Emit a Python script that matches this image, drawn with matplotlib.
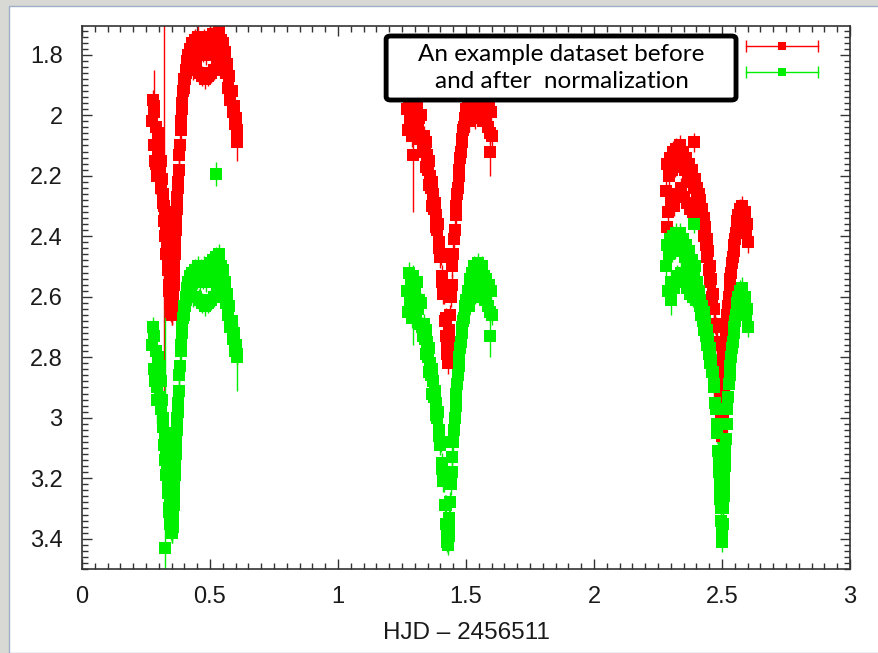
import matplotlib
matplotlib.use("Agg")
import matplotlib.pyplot as plt
from matplotlib.patches import Rectangle, FancyBboxPatch
from matplotlib.ticker import MultipleLocator, FormatStrFormatter
import numpy as np

# night 1: times (HJD - 2456511) and magnitudes before (red) / after (green) normalization
t1 = [0.274, 0.277, 0.280, 0.283, 0.286, 0.289, 0.292, 0.295, 0.298,
      0.3000, 0.3025, 0.3050, 0.3075, 0.3100, 0.3125, 0.3150, 0.3175, 0.3200, 0.3225,
      0.3250, 0.3275, 0.3300, 0.3325, 0.3350, 0.3375, 0.3400, 0.3425, 0.3450, 0.3475, 0.3500,
      0.3525, 0.3550, 0.3575, 0.3600, 0.3625, 0.3650, 0.3675, 0.3700, 0.3725, 0.3750,
      0.3775, 0.3800, 0.3825, 0.3850, 0.3875, 0.3900, 0.3925, 0.3950, 0.3975, 0.4000,
      0.4025, 0.4050, 0.4075, 0.4100, 0.4125, 0.4150, 0.4175, 0.4200,
      0.424, 0.428, 0.432, 0.436, 0.440, 0.444, 0.448, 0.452, 0.456, 0.460, 0.464,
      0.468, 0.472, 0.476, 0.480, 0.484, 0.488, 0.492, 0.496, 0.500, 0.504, 0.508,
      0.512, 0.516, 0.520, 0.524, 0.528, 0.532, 0.536, 0.540, 0.544, 0.548,
      0.552, 0.556, 0.560, 0.564, 0.568, 0.572, 0.576, 0.580, 0.584, 0.588,
      0.592, 0.596, 0.600, 0.604,
      0.3410, 0.3465, 0.3490, 0.3510, 0.3540, 0.3560,
      0.3538, 0.3563, 0.3588, 0.3613, 0.3638, 0.3663, 0.3688, 0.3713, 0.3738]
red1 = [2.02, 1.95, 2.10, 1.99, 2.15, 2.04, 2.20, 2.06, 2.12,
        2.14, 2.10, 2.18, 2.15, 2.24, 2.21, 2.29, 2.26, 2.35, 2.32,
        2.40, 2.37, 2.46, 2.43, 2.51, 2.48, 2.56, 2.55, 2.62, 2.60, 2.66,
        2.66, 2.61, 2.56, 2.51, 2.46, 2.41, 2.36, 2.31, 2.27, 2.22,
        2.18, 2.13, 2.10, 2.05, 2.02, 1.98, 1.96, 1.92, 1.91, 1.88,
        1.88, 1.85, 1.86, 1.82, 1.85, 1.80, 1.84, 1.78,
        1.80, 1.76, 1.85, 1.79, 1.75, 1.84, 1.78, 1.74, 1.86, 1.80, 1.76,
        1.87, 1.79, 1.75, 1.88, 1.80, 1.76, 1.87, 1.78, 1.74, 1.86, 1.79,
        1.73, 1.85, 1.77, 1.73, 1.83, 1.76, 1.72, 1.80, 1.75, 1.77,
        1.76, 1.82, 1.79, 1.86, 1.83, 1.91, 1.87, 1.95, 1.92, 1.99,
        1.97, 2.03, 2.01, 2.05,
        2.58, 2.63, 2.65, 2.64, 2.61, 2.57,
        2.63, 2.58, 2.53, 2.48, 2.43, 2.38, 2.33, 2.29, 2.24]
green1 = [2.76, 2.70, 2.84, 2.73, 2.88, 2.78, 2.94, 2.80, 2.86,
          2.86, 2.83, 2.93, 2.88, 2.97, 2.94, 3.03, 3.00, 3.09, 3.05,
          3.14, 3.11, 3.19, 3.17, 3.25, 3.22, 3.30, 3.28, 3.35, 3.33, 3.38,
          3.38, 3.34, 3.29, 3.24, 3.19, 3.14, 3.09, 3.04, 3.00, 2.95,
          2.91, 2.86, 2.83, 2.78, 2.76, 2.72, 2.70, 2.67, 2.66, 2.63,
          2.63, 2.60, 2.61, 2.57, 2.60, 2.55, 2.58, 2.53,
          2.56, 2.52, 2.60, 2.55, 2.51, 2.60, 2.54, 2.50, 2.61, 2.55, 2.51,
          2.62, 2.54, 2.50, 2.63, 2.55, 2.51, 2.62, 2.53, 2.49, 2.61, 2.54,
          2.48, 2.60, 2.52, 2.47, 2.58, 2.51, 2.46, 2.55, 2.50, 2.52,
          2.51, 2.57, 2.55, 2.62, 2.59, 2.66, 2.63, 2.70, 2.68, 2.74,
          2.72, 2.78, 2.76, 2.79,
          3.31, 3.36, 3.37, 3.37, 3.35, 3.31,
          3.36, 3.31, 3.27, 3.22, 3.17, 3.12, 3.07, 3.03, 2.98]

# night 2
t2 = [1.270, 1.274, 1.278, 1.282, 1.286, 1.290, 1.294, 1.298, 1.302, 1.306,
      1.310, 1.314, 1.318, 1.322, 1.326, 1.330,
      1.333, 1.336, 1.339, 1.342, 1.345, 1.348, 1.351, 1.354, 1.357, 1.360,
      1.363, 1.366, 1.369, 1.372, 1.375, 1.378, 1.381, 1.384, 1.387, 1.390,
      1.393, 1.396, 1.399, 1.402, 1.405, 1.408, 1.411, 1.414, 1.417, 1.420,
      1.423, 1.426, 1.429,
      1.432, 1.435, 1.438, 1.441, 1.444, 1.447, 1.450, 1.453, 1.456, 1.459,
      1.462, 1.465, 1.468, 1.471, 1.474, 1.477, 1.480, 1.483, 1.486, 1.489,
      1.492, 1.495, 1.498, 1.501, 1.504,
      1.508, 1.512, 1.516, 1.520, 1.524, 1.528, 1.532, 1.536, 1.540, 1.544,
      1.548, 1.552, 1.556, 1.560, 1.564, 1.568, 1.572, 1.576, 1.580, 1.584,
      1.588, 1.592, 1.596, 1.600,
      1.4245, 1.4275, 1.4305, 1.4335]
red2 = [1.98, 2.05, 1.94, 2.02, 1.97, 2.07, 1.95, 2.03, 1.99, 2.06,
        1.96, 2.04, 2.01, 2.08, 2.00, 2.07,
        2.11, 2.07, 2.12, 2.09, 2.17, 2.13, 2.18, 2.15, 2.23, 2.20,
        2.24, 2.22, 2.30, 2.26, 2.31, 2.29, 2.37, 2.33, 2.38, 2.36,
        2.44, 2.42, 2.47, 2.46, 2.55, 2.53, 2.59, 2.59, 2.68, 2.67,
        2.73, 2.73, 2.82,
        2.78, 2.71, 2.66, 2.60, 2.56, 2.50, 2.46, 2.41, 2.38, 2.33,
        2.30, 2.26, 2.24, 2.20, 2.18, 2.14, 2.12, 2.09, 2.08, 2.05,
        2.04, 2.01, 2.01, 1.98, 1.99,
        1.96, 2.02, 1.94, 2.00, 1.93, 1.99, 1.92, 2.01, 1.94, 1.98,
        1.91, 2.00, 1.93, 1.99, 1.92, 2.02, 1.95, 2.01, 1.94, 2.04,
        1.97, 2.06, 1.99, 2.07,
        2.75, 2.79, 2.79, 2.74]
green2 = [2.58, 2.65, 2.52, 2.62, 2.56, 2.67, 2.53, 2.63, 2.58, 2.66,
          2.55, 2.64, 2.61, 2.69, 2.62, 2.70,
          2.73, 2.69, 2.74, 2.71, 2.79, 2.75, 2.80, 2.77, 2.85, 2.82,
          2.86, 2.84, 2.92, 2.88, 2.93, 2.91, 2.99, 2.95, 3.00, 2.98,
          3.06, 3.04, 3.09, 3.08, 3.17, 3.15, 3.21, 3.21, 3.29, 3.29,
          3.35, 3.36, 3.42,
          3.39, 3.33, 3.28, 3.22, 3.18, 3.13, 3.08, 3.04, 3.00, 2.96,
          2.92, 2.89, 2.86, 2.83, 2.80, 2.77, 2.75, 2.72, 2.70, 2.68,
          2.67, 2.64, 2.63, 2.61, 2.61,
          2.58, 2.63, 2.54, 2.60, 2.52, 2.58, 2.50, 2.59, 2.52, 2.57,
          2.49, 2.58, 2.51, 2.58, 2.50, 2.60, 2.53, 2.61, 2.54, 2.63,
          2.56, 2.65, 2.58, 2.66,
          3.38, 3.41, 3.41, 3.36]

# night 3
t3 = [2.282, 2.286, 2.290, 2.294, 2.298, 2.302, 2.306, 2.310, 2.314, 2.318,
      2.322, 2.326, 2.330, 2.334, 2.338, 2.342, 2.346, 2.350, 2.354, 2.358,
      2.362, 2.366, 2.370, 2.374, 2.378, 2.382, 2.386, 2.390, 2.394, 2.398,
      2.401, 2.404, 2.407, 2.410, 2.413, 2.416, 2.419, 2.422, 2.425, 2.428,
      2.431, 2.434, 2.437, 2.440, 2.443, 2.446, 2.449, 2.452, 2.455, 2.458,
      2.461, 2.464, 2.467, 2.470, 2.473, 2.476, 2.479, 2.482, 2.485, 2.488,
      2.491, 2.494, 2.497, 2.500,
      2.503, 2.506, 2.509, 2.512, 2.515, 2.518, 2.521, 2.524, 2.527, 2.530,
      2.533, 2.536, 2.539, 2.542, 2.545, 2.548, 2.551, 2.554, 2.557, 2.560,
      2.564, 2.568, 2.572, 2.576, 2.580, 2.584, 2.588, 2.592, 2.596, 2.600,
      2.4865, 2.4895, 2.4925, 2.4955, 2.4985, 2.5015, 2.5045, 2.5075, 2.5105, 2.5135]
red3 = [2.25, 2.16, 2.32, 2.20, 2.14, 2.28, 2.18, 2.12, 2.30, 2.17,
        2.11, 2.26, 2.15, 2.10, 2.24, 2.16, 2.12, 2.27, 2.18, 2.14,
        2.29, 2.20, 2.16, 2.31, 2.22, 2.18, 2.32, 2.24, 2.21, 2.33,
        2.28, 2.24, 2.30, 2.26, 2.31, 2.28, 2.33, 2.31, 2.36, 2.34,
        2.40, 2.37, 2.43, 2.41, 2.47, 2.45, 2.51, 2.50, 2.55, 2.54,
        2.60, 2.59, 2.64, 2.64, 2.69, 2.70, 2.75, 2.76, 2.81, 2.84,
        2.89, 2.93, 2.99, 3.06,
        2.99, 2.91, 2.84, 2.79, 2.74, 2.70, 2.66, 2.63, 2.60, 2.57,
        2.54, 2.52, 2.49, 2.47, 2.45, 2.43, 2.41, 2.39, 2.37, 2.35,
        2.33, 2.37, 2.31, 2.35, 2.30, 2.34, 2.32, 2.38, 2.36, 2.42,
        2.83, 2.86, 2.91, 2.96, 3.02, 3.03, 2.94, 2.87, 2.81, 2.76]
green3 = [2.50, 2.43, 2.58, 2.46, 2.41, 2.55, 2.45, 2.40, 2.57, 2.44,
          2.39, 2.53, 2.43, 2.39, 2.52, 2.45, 2.41, 2.55, 2.47, 2.43,
          2.57, 2.49, 2.45, 2.59, 2.51, 2.48, 2.60, 2.53, 2.50, 2.61,
          2.58, 2.55, 2.60, 2.58, 2.63, 2.61, 2.66, 2.63, 2.68, 2.65,
          2.71, 2.68, 2.73, 2.71, 2.76, 2.74, 2.79, 2.77, 2.82, 2.81,
          2.85, 2.85, 2.89, 2.90, 2.95, 2.97, 3.02, 3.05, 3.11, 3.15,
          3.21, 3.27, 3.34, 3.41,
          3.35, 3.26, 3.19, 3.13, 3.07, 3.02, 2.97, 2.93, 2.89, 2.86,
          2.83, 2.80, 2.77, 2.75, 2.72, 2.70, 2.68, 2.66, 2.64, 2.62,
          2.60, 2.63, 2.58, 2.62, 2.57, 2.61, 2.60, 2.66, 2.64, 2.70,
          3.12, 3.18, 3.24, 3.30, 3.37, 3.38, 3.30, 3.22, 3.16, 3.10]

# typical photometric error
err = 0.034

# points with larger errors (x, y, yerr)
red_out = [(0.282, 1.97, 0.12), (0.290, 2.16, 0.10), (0.322, 2.30, 0.63),
           (0.605, 2.09, 0.06), (1.293, 2.06, 0.03), (1.293, 2.13, 0.19),
           (1.594, 2.12, 0.08), (2.285, 2.37, 0.02), (2.390, 2.09, 0.03)]
green_out = [(0.292, 2.90, 0.12), (0.326, 3.43, 1.00), (0.523, 2.195, 0.04),
             (0.605, 2.80, 0.11), (1.293, 2.67, 0.09), (1.594, 2.73, 0.07),
             (2.300, 2.61, 0.05), (2.390, 2.36, 0.03)]

RED = '#ff0000'
GREEN = '#00ee00'

fig = plt.figure(figsize=(8.79, 6.53), dpi=100)
fig.patch.set_facecolor('#d8d8d4')
fig.patches.append(Rectangle((9 / 879, 0), 1, 1 - 6 / 653, transform=fig.transFigure,
                             facecolor='white', edgecolor='#9cb0c8', lw=1.0, zorder=-1))

ax = fig.add_axes([82 / 879, 1 - 569 / 653, 768 / 879, 543 / 653])
ax.set_facecolor('white')

style = dict(fmt='s', ms=8, elinewidth=1.0, capsize=4.8, capthick=1.0, mew=0)

def draw(times, vals, outs, color):
    x = np.concatenate(times)
    y = np.concatenate(vals)
    ax.errorbar(x, y, yerr=err, color=color, mfc=color, ecolor=color, **style)
    ox = [o[0] for o in outs]
    oy = [o[1] for o in outs]
    oe = [o[2] for o in outs]
    ax.errorbar(ox, oy, yerr=oe, color=color, mfc=color, ecolor=color, **style)

draw([t1, t2, t3], [red1, red2, red3], red_out, RED)
draw([t1, t2, t3], [green1, green2, green3], green_out, GREEN)

ax.set_xlim(0, 3)
ax.set_ylim(3.5, 1.705)
ax.xaxis.set_major_locator(MultipleLocator(0.5))
ax.xaxis.set_minor_locator(MultipleLocator(0.05))
ax.yaxis.set_major_locator(MultipleLocator(0.2))
ax.yaxis.set_minor_locator(MultipleLocator(0.02))
ax.xaxis.set_major_formatter(FormatStrFormatter('%g'))
ax.yaxis.set_major_formatter(FormatStrFormatter('%g'))
ax.tick_params(which='both', direction='in', top=True, right=True, colors='#333333',
               labelcolor='#1a1a1a', labelsize=17, width=1)
ax.tick_params(which='major', length=7)
ax.tick_params(which='minor', length=4)
ax.tick_params(axis='x', pad=12)
ax.tick_params(axis='y', pad=14)
for lab in ax.get_xticklabels() + ax.get_yticklabels():
    lab.set_family('Liberation Sans')
for s in ax.spines.values():
    s.set_color('#333333')
    s.set_linewidth(1.2)

ax.set_xlabel('HJD \u2013 2456511', fontsize=17.5, family='Liberation Sans',
              color='#1a1a1a', labelpad=10)

# key samples (no titles), top right
for yk, c in [(0.963, RED), (0.915, GREEN)]:
    ax.plot([0.8646, 0.958], [yk, yk], color=c, lw=1, transform=ax.transAxes, clip_on=False)
    ax.plot([0.8646, 0.958], [yk, yk], ls='none', marker='|', ms=8, mew=1, color=c,
            transform=ax.transAxes, clip_on=False)
    ax.plot([0.911], [yk], ls='none', marker='s', ms=6, mew=0, color=c,
            transform=ax.transAxes, clip_on=False)

box = FancyBboxPatch((0.396, 0.8637), 0.4556, 0.1179, boxstyle='round,pad=0,rounding_size=0.006',
                     transform=ax.transAxes, facecolor='white', edgecolor='black', lw=3.5,
                     zorder=5)
ax.add_patch(box)
ax.text(0.6243, 0.9227, 'An example dataset before\nand after  normalization',
        transform=ax.transAxes, ha='center', va='center', fontsize=17.5, family='Lato',
        linespacing=1.3, zorder=6)

fig.savefig('out.png', dpi=100, facecolor=fig.get_facecolor())
